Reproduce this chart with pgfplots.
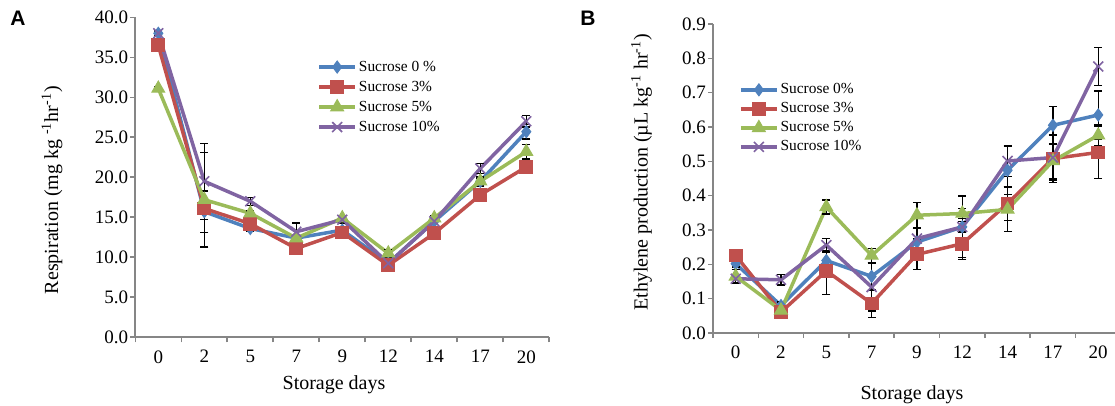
\documentclass[border=0pt]{standalone}
\usepackage{pgfplots}
\pgfplotsset{compat=1.18}
\usepackage{pgfplotstable}
\usepackage{fontspec}
\setmainfont{Liberation Serif}
\newfontfamily\arial{Liberation Sans}

\definecolor{xblue}{HTML}{4F81BD}
\definecolor{xred}{HTML}{C0504D}
\definecolor{xgreen}{HTML}{9BBB59}
\definecolor{xpurple}{HTML}{8064A2}
\definecolor{axgray}{HTML}{868686}

% respiration (mg/kg/hr), x = category index 0..8
\pgfplotstableread{
i  s0    e0   s3    e3   s5    e5   s10   e10
0  38.0  0.3  36.5  0.4  31.1  0.2  38.0  0.3
1  15.7  2.6  16.1  0.5  17.2  5.9  19.5  4.75
2  13.6  0.3  14.2  0.3  15.5  0.3  17.0  0.5
3  12.4  0.4  11.1  0.3  12.4  0.3  13.2  1.1
4  13.4  0.4  13.1  0.6  14.9  0.3  14.7  0.4
5  9.25  0.4  9.0   0.3  10.5  0.5  9.25  0.5
6  14.5  0.3  13.0  0.3  14.9  0.3  14.5  0.4
7  19.5  0.6  17.8  0.4  19.5  0.4  21.1  0.6
8  25.7  0.9  21.3  0.4  23.2  0.9  27.0  0.7
}\resp

% ethylene production (uL/kg/hr)
\pgfplotstableread{
i  s0     e0     s3     e3     s5     e5     s10    e10
0  0.202  0.010  0.226  0.010  0.165  0.020  0.158  0.010
1  0.080  0.010  0.061  0.010  0.066  0.010  0.155  0.015
2  0.211  0.030  0.181  0.068  0.367  0.020  0.256  0.020
3  0.165  0.040  0.086  0.040  0.226  0.020  0.134  0.070
4  0.265  0.040  0.229  0.045  0.343  0.037  0.275  0.030
5  0.309  0.090  0.260  0.045  0.348  0.015  0.309  0.015
6  0.474  0.070  0.377  0.050  0.360  0.065  0.501  0.045
7  0.605  0.055  0.508  0.070  0.501  0.050  0.511  0.065
8  0.635  0.070  0.526  0.076  0.576  0.030  0.776  0.055
}\ethy

\pgfplotsset{
    xlchart/.style={
            scale only axis,
            clip=false,
            axis x line*=bottom,
            axis y line*=left,
            axis line style={draw=axgray, line width=1pt},
            tick align=outside,
            major tick length=2.5pt,
            tick style={draw=axgray, line width=0.8pt},
            xmin=-0.5,
            xtick={-0.5,0.5,...,8.5},
            xticklabels={},
            extra x ticks={0,1,2,3,4,5,6,7,8},
            extra x tick labels={0,2,5,7,9,12,14,17,20},
            extra x tick style={major tick length=0pt, grid=none},
            tick label style={font=\fontsize{9.5}{10}\selectfont},
            xticklabel style={yshift=-3pt},
            yticklabel style={xshift=2.5pt, /pgf/number format/.cd, fixed, fixed zerofill, precision=1, assume math mode=true},
            label style={font=\fontsize{10}{12}\selectfont},
            legend cell align=left,
            legend style={draw=none, fill=none, inner sep=0pt,
                    font=\fontsize{7.7}{9}\selectfont,
                    nodes={inner ysep=1.5pt, inner xsep=1pt, text height=5.5pt, text depth=1.5pt}},
            legend image code/.code={
                    \draw[mark repeat=2, mark phase=2, #1] plot coordinates {(0pt,0pt) (9pt,0pt) (18pt,0pt)};},
        },
    sblue/.style={xblue, line width=1.75pt, mark=diamond*, mark size=3pt, mark options={fill=xblue, draw=xblue, line width=0.5pt}},
    sred/.style={xred, line width=1.75pt, mark=square*, mark size=3.2pt, mark options={fill=xred, draw=xred, line width=0.5pt}},
    sgreen/.style={xgreen, line width=1.75pt, mark=triangle*, mark size=3.7pt, mark options={fill=xgreen, draw=xgreen, line width=0.5pt}},
    spurple/.style={xpurple, line width=1.75pt, mark=x, mark size=3.5pt, mark options={draw=xpurple, line width=0.8pt}},
    ebars/.style={error bars/.cd, y dir=both, y explicit,
            error bar style={black, line width=0.65pt},
            error mark options={black, rotate=90, mark size=2pt, line width=0.65pt}},
}

\begin{document}
\begin{tikzpicture}
\path[use as bounding box] (0,0) rectangle (557.5pt,-203pt);

\node[font=\arial\bfseries\fontsize{10.5}{12}\selectfont] at (9pt,-9.2pt) {A};
\node[font=\arial\bfseries\fontsize{10.5}{12}\selectfont] at (294pt,-9.2pt) {B};

\begin{axis}[
        xlchart,
        at={(67.65pt,-168.65pt)}, anchor=south west,
        width=207pt, height=160pt,
        xmax=8.5,
        ymin=0, ymax=40,
        ytick={0,5,10,15,20,25,30,35,40},
        xlabel={Storage days},
        ylabel={Respiration (mg kg \textsuperscript{-1}hr\textsuperscript{-1})},
        xlabel style={at={(axis description cs:0.48,-0.149)}, anchor=center},
        ylabel style={at={(axis description cs:-0.201,0.46)}, anchor=center},
        legend style={at={(axis description cs:0.439,0.877)}, anchor=north west},
    ]
    \addplot[sblue, ebars] table[x=i, y=s0, y error=e0] {\resp};
    \addlegendentry{Sucrose 0 \%}
    \addplot[sred, ebars] table[x=i, y=s3, y error=e3] {\resp};
    \addlegendentry{Sucrose 3\%}
    \addplot[sgreen, ebars] table[x=i, y=s5, y error=e5] {\resp};
    \addlegendentry{Sucrose 5\%}
    \addplot[spurple, ebars] table[x=i, y=s10, y error=e10] {\resp};
    \addlegendentry{Sucrose 10\%}
\end{axis}

\begin{axis}[
        xlchart,
        at={(356.5pt,-166.5pt)}, anchor=south west,
        width=201pt, height=154.5pt,
        xmax=8.37,
        ymin=0, ymax=0.9,
        ytick={0,0.1,0.2,0.3,0.4,0.5,0.6,0.7,0.8,0.9},
        xlabel={Storage days},
        ylabel={Ethylene production (µL kg\textsuperscript{-1} hr\textsuperscript{-1})},
        xlabel style={at={(axis description cs:0.495,-0.2)}, anchor=center},
        ylabel style={at={(axis description cs:-0.178,0.52)}, anchor=center},
        legend style={at={(axis description cs:0.064,0.819)}, anchor=north west,
                nodes={inner ysep=1.25pt}},
    ]
    \addplot[sblue, ebars] table[x=i, y=s0, y error=e0] {\ethy};
    \addlegendentry{Sucrose 0\%}
    \addplot[sred, ebars] table[x=i, y=s3, y error=e3] {\ethy};
    \addlegendentry{Sucrose 3\%}
    \addplot[sgreen, ebars] table[x=i, y=s5, y error=e5] {\ethy};
    \addlegendentry{Sucrose 5\%}
    \addplot[spurple, ebars] table[x=i, y=s10, y error=e10] {\ethy};
    \addlegendentry{Sucrose 10\%}
\end{axis}
\end{tikzpicture}
\end{document}
